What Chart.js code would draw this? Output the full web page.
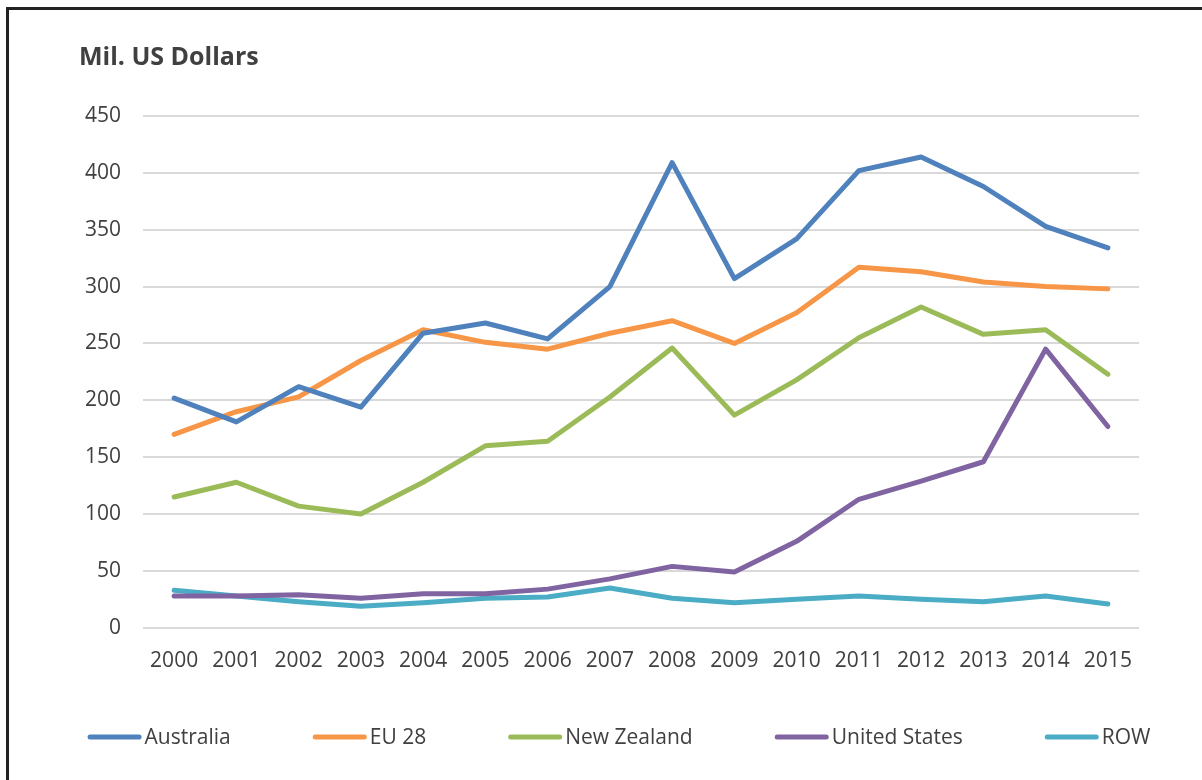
<!DOCTYPE html>
<html>
<head>
<meta charset="utf-8">
<script src="https://cdn.jsdelivr.net/npm/chart.js@4/dist/chart.umd.min.js"></script>
<style>
    html, body { margin: 0; padding: 0; background: #fff; overflow: hidden; }
    #frame { position: absolute; left: 6px; top: 7px; width: 1240px; height: 800px; border: 3px solid #222; box-sizing: border-box; }
    #wrap { position: absolute; left: 0; top: 0; width: 1238px; height: 780px; }
</style>
</head>
<body>
<div id="frame"></div>
<div id="wrap"><canvas id="chart"></canvas></div>
<script>
const years = ['2000', '2001', '2002', '2003', '2004', '2005', '2006', '2007', '2008', '2009', '2010', '2011', '2012', '2013', '2014', '2015'];
const australia = [202, 181, 212, 194, 259, 268, 254, 300, 409, 307, 342, 402, 414, 388, 353, 334];
const eu28 = [170, 190, 203, 235, 262, 251, 245, 259, 270, 250, 277, 317, 313, 304, 300, 298];
const newZealand = [115, 128, 107, 100, 128, 160, 164, 203, 246, 187, 218, 255, 282, 258, 262, 223];
const unitedStates = [28, 28, 29, 26, 30, 30, 34, 43, 54, 49, 76, 113, 129, 146, 245, 177];
const row = [33, 28, 23, 19, 22, 26, 27, 35, 26, 22, 25, 28, 25, 23, 28, 21];
const seriesNames = ['Australia', 'EU 28', 'New Zealand', 'United States', 'ROW'];
const seriesColors = ['#4F81BD', '#F79646', '#9BBB59', '#8064A2', '#4BACC6'];
const yTicks = [0, 50, 100, 150, 200, 250, 300, 350, 400, 450];

const fontFamily = "'Open Sans', 'Noto Sans', sans-serif";
const seriesData = [australia, eu28, newZealand, unitedStates, row];

const datasets = seriesData.map(function (values, i) {
    return {
        label: seriesNames[i],
        data: values,
        borderColor: seriesColors[i],
        backgroundColor: seriesColors[i],
        borderWidth: 5,
        borderCapStyle: 'round',
        borderJoinStyle: 'round',
        pointRadius: 0,
        pointHoverRadius: 0,
        fill: false,
        tension: 0
    };
});

// excel-like legend: one row, line sample glued to the label
const bottomLegend = {
    id: 'bottomLegend',
    afterDraw: function (chart) {
        const ctx = chart.ctx;
        const lineLen = 54;
        const gap = 3;
        const spacing = 82;
        const y = chart.height - 43;
        ctx.save();
        ctx.font = '21px ' + fontFamily;
        const items = chart.data.datasets.map(function (ds) {
            return { ds: ds, w: lineLen + gap + ctx.measureText(ds.label).width };
        });
        const total = items.reduce(function (s, it) { return s + it.w; }, 0) + spacing * (items.length - 1);
        let x = chart.width / 2 - total / 2;
        items.forEach(function (it) {
            ctx.strokeStyle = it.ds.borderColor;
            ctx.lineWidth = 5;
            ctx.lineCap = 'round';
            ctx.beginPath();
            ctx.moveTo(x + 2.5, y);
            ctx.lineTo(x + lineLen - 2.5, y);
            ctx.stroke();
            ctx.fillStyle = '#404040';
            ctx.textBaseline = 'middle';
            ctx.textAlign = 'left';
            ctx.fillText(it.ds.label, x + lineLen + gap, y + 1);
            x += it.w + spacing;
        });
        ctx.restore();
    }
};

new Chart(document.getElementById('chart'), {
    type: 'line',
    data: {
        labels: years,
        datasets: datasets
    },
    plugins: [bottomLegend],
    options: {
        responsive: true,
        maintainAspectRatio: false,
        animation: false,
        layout: {
            padding: { left: 79, right: 99, top: 20, bottom: 85 }
        },
        plugins: {
            title: {
                display: true,
                text: 'Mil. US Dollars',
                align: 'start',
                color: '#404040',
                font: { family: fontFamily, size: 25, weight: 'bold' },
                padding: { top: 23, bottom: 43 }
            },
            legend: { display: false },
            tooltip: { enabled: false }
        },
        scales: {
            x: {
                offset: true,
                grid: { display: false, drawTicks: false },
                border: { display: false },
                ticks: {
                    color: '#404040',
                    font: { family: fontFamily, size: 21 },
                    padding: 21,
                    maxRotation: 0,
                    autoSkip: false
                }
            },
            y: {
                min: 0,
                max: 450,
                afterBuildTicks: function (scale) {
                    scale.ticks = yTicks.map(function (v) { return { value: v }; });
                },
                afterFit: function (scale) {
                    scale.width = 64;
                },
                grid: { color: '#d9d9d9', lineWidth: 2, drawTicks: false },
                border: { display: false },
                ticks: {
                    color: '#404040',
                    font: { family: fontFamily, size: 21 },
                    padding: 22
                }
            }
        }
    }
});
</script>
</body>
</html>
